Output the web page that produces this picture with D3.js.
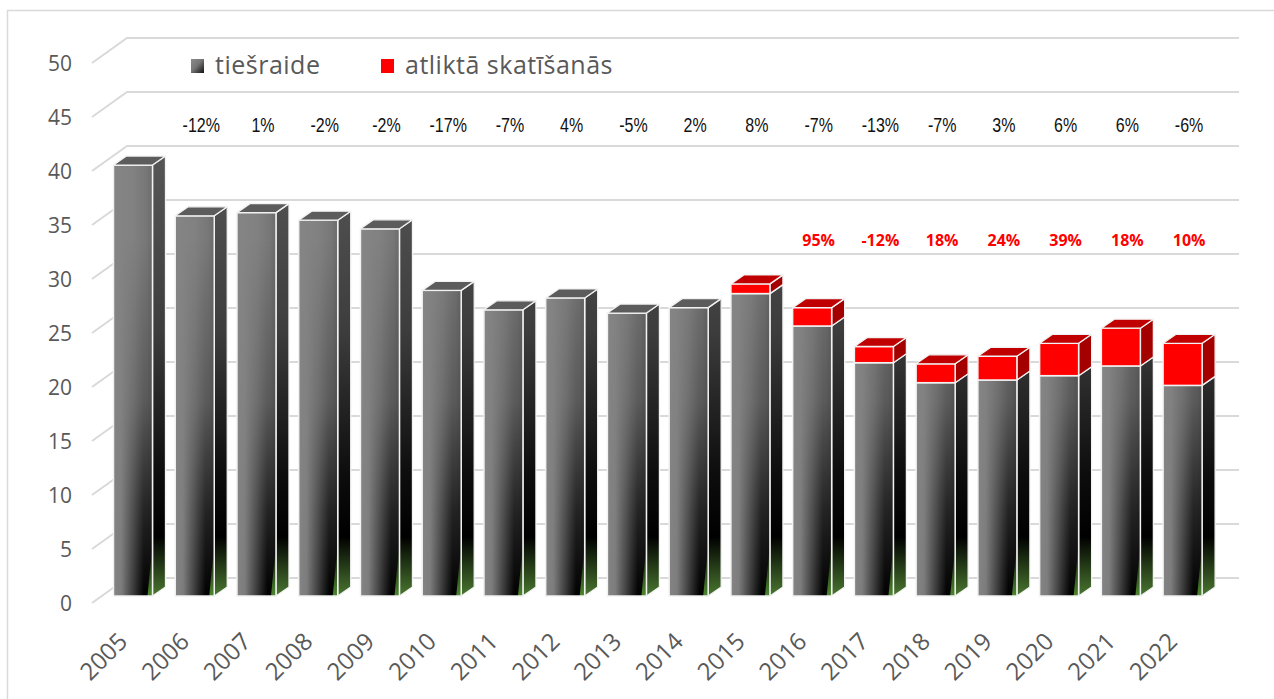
<!DOCTYPE html>
<html><head><meta charset="utf-8">
<script src="https://cdn.jsdelivr.net/npm/d3@7/dist/d3.min.js"></script>
<style>html,body{margin:0;padding:0;background:#fff;overflow:hidden}</style>
</head><body>
<svg id="c" width="1274" height="699"></svg>
<script>
// ---------- data ----------
const years = ["2005","2006","2007","2008","2009","2010","2011","2012","2013","2014","2015","2016","2017","2018","2019","2020","2021","2022"];
const liveValues = [39.9,35.2,35.5,34.8,34.0,28.3,26.5,27.6,26.2,26.7,28.0,25.0,21.6,19.75,20.0,20.4,21.3,19.5];
const delayedValues = [0,0,0,0,0,0,0,0,0,0,0.9,1.7,1.5,1.75,2.2,3.0,3.5,3.9];
const totalChangeLabels = ["","-12%","1%","-2%","-2%","-17%","-7%","4%","-5%","2%","8%","-7%","-13%","-7%","3%","6%","6%","-6%"];
const delayedChangeLabels = ["","","","","","","","","","","","95%","-12%","18%","24%","39%","18%","10%"];
const yTicks = [0,5,10,15,20,25,30,35,40,45,50];
const seriesNames = ["tiešraide","atliktā skatīšanās"];

// ---------- setup ----------
const svg = d3.select("#c");
const x = d3.scaleBand().domain(years).range([102, 1213.6]).paddingInner(0.368).paddingOuter(0.186);
const y = d3.scaleLinear().domain([0, 50]).range([596, 56]);
const DX = 13, DY = -9;           // bar depth
const FRONT_X = 92, BACK_X = 127;  // side wall
const FRONT_OFF = 7, BACK_OFF = -18;
const WALL_RIGHT = 1239;
const grid = "#d9d9d9";
const textGray = "#595959";
const edge = "#f2f2f2";

const defs = svg.append("defs");
function lin(id, attrs, stops) {
  const g = defs.append("linearGradient").attr("id", id);
  Object.entries(attrs).forEach(([k, v]) => g.attr(k, v));
  stops.forEach(s => g.append("stop").attr("offset", s[0]).attr("stop-color", s[1]).attr("stop-opacity", s[2] === undefined ? 1 : s[2]));
}
lin("frontBase", {x1:0,y1:0,x2:1,y2:0}, [[0,"#858585"],[0.5,"#818181"],[0.85,"#777"],[1,"#6a6a6a"]]);
lin("frontDark", {x1:0,y1:0,x2:1,y2:0}, [[0,"#000",0],[0.2,"#000",0.05],[0.78,"#000",1],[1,"#000",1]]);
lin("maskGrad", {gradientUnits:"userSpaceOnUse",x1:0,y1:240,x2:0,y2:600}, [[0,"#fff",0],[0.45,"#fff",0.25],[0.75,"#fff",0.7],[1,"#fff",1]]);
lin("sideGrad", {gradientUnits:"userSpaceOnUse",x1:0,y1:150,x2:0,y2:600}, [[0,"#575757"],[0.4,"#3d3d3d"],[0.72,"#0d0d0d"],[0.86,"#000"],[1,"#4f7f33"]]);
lin("greenEdge", {gradientUnits:"userSpaceOnUse",x1:0,y1:545,x2:0,y2:597}, [[0,"#4f8a2f",0],[1,"#4f8a2f",1]]);
lin("legendGray", {x1:0,y1:0,x2:1,y2:1}, [[0,"#8a8a8a"],[0.45,"#777"],[1,"#111"]]);
const mask = defs.append("mask").attr("id","fadeMask").attr("maskUnits","userSpaceOnUse")
  .attr("x",0).attr("y",0).attr("width",1274).attr("height",699);
mask.append("rect").attr("x",0).attr("y",0).attr("width",1274).attr("height",699).attr("fill","url(#maskGrad)");

// outer border
svg.append("rect").attr("x",7.5).attr("y",10.5).attr("width",1300).attr("height",800)
  .attr("fill","#fff").attr("stroke","#d9d9d9").attr("stroke-width",1.5);

// ---------- gridlines (back wall + side wall) ----------
const gl = svg.append("g").attr("stroke", grid).attr("stroke-width", 2).attr("fill","none");
yTicks.forEach(t => {
  const yb = y(t) + BACK_OFF, yf = y(t) + FRONT_OFF;
  gl.append("path").attr("d", `M${FRONT_X},${yf}L${BACK_X},${yb}L${WALL_RIGHT},${yb}`);
});

// y tick labels
svg.append("g").selectAll("text").data(yTicks).join("text")
  .attr("x", 72).attr("y", d => y(d) + FRONT_OFF).attr("dy","0.36em")
  .attr("text-anchor","end").attr("fill", textGray)
  .attr("font-family","'Open Sans', sans-serif").attr("font-size", 21)
  .text(d => d);

// ---------- bars ----------
const bars = svg.append("g");
years.forEach((yr, i) => {
  const xl = x(yr), w = x.bandwidth(), xr = xl + w;
  const y0 = y(0), y1 = y(liveValues[i]), y2 = y(liveValues[i] + delayedValues[i]);
  const g = bars.append("g");
  g.append("path").attr("d", `M${xr},${y1}L${xr+DX},${y1+DY}L${xr+DX},${y0+DY}L${xr},${y0}Z`)
    .attr("fill","url(#sideGrad)").attr("stroke",edge).attr("stroke-width",1.3).attr("stroke-linejoin","round");
  g.append("rect").attr("x",xl).attr("y",y1).attr("width",w).attr("height",y0-y1).attr("fill","url(#frontBase)");
  g.append("rect").attr("x",xl).attr("y",y1).attr("width",w).attr("height",y0-y1).attr("fill","url(#frontDark)").attr("mask","url(#fadeMask)");
  g.append("path").attr("d", `M${xr-5},${y0}L${xr},${y0}L${xr},${y0-52}Z`).attr("fill","url(#greenEdge)");
  g.append("rect").attr("x",xl).attr("y",y1).attr("width",w).attr("height",y0-y1)
    .attr("fill","none").attr("stroke",edge).attr("stroke-width",1.5);
  if (delayedValues[i] > 0) {
    g.append("path").attr("d", `M${xr},${y2}L${xr+DX},${y2+DY}L${xr+DX},${y1+DY}L${xr},${y1}Z`)
      .attr("fill","#a50000").attr("stroke",edge).attr("stroke-width",1.3).attr("stroke-linejoin","round");
    g.append("rect").attr("x",xl).attr("y",y2).attr("width",w).attr("height",y1-y2)
      .attr("fill","#ff0000").attr("stroke",edge).attr("stroke-width",1.5);
    g.append("path").attr("d", `M${xl},${y2}L${xr},${y2}L${xr+DX},${y2+DY}L${xl+DX},${y2+DY}Z`)
      .attr("fill","#c00000").attr("stroke",edge).attr("stroke-width",1.3).attr("stroke-linejoin","round");
  } else {
    g.append("path").attr("d", `M${xl},${y1}L${xr},${y1}L${xr+DX},${y1+DY}L${xl+DX},${y1+DY}Z`)
      .attr("fill","#5c5c5c").attr("stroke",edge).attr("stroke-width",1.3).attr("stroke-linejoin","round");
  }
});

// ---------- x labels ----------
svg.append("g").selectAll("text").data(years).join("text")
  .attr("transform", d => `translate(${x(d) + x.bandwidth()/2 - 4},643) rotate(-45)`)
  .attr("text-anchor","end").attr("fill", textGray)
  .attr("font-family","'Open Sans', sans-serif").attr("font-size", 24)
  .text(d => d);

// ---------- change labels ----------
const labelX = d => x(d) + x.bandwidth()/2 + DX/2;
svg.append("g").selectAll("text").data(years.map((d,i)=>({d, t: totalChangeLabels[i]})).filter(o=>o.t))
  .join("text")
  .attr("transform", o => `translate(${labelX(o.d)},132) scale(0.8,1)`)
  .attr("text-anchor","middle").attr("fill","#111")
  .attr("font-family","'Liberation Sans', Arial, sans-serif").attr("font-size", 20)
  .text(o => o.t);
svg.append("g").selectAll("text").data(years.map((d,i)=>({d, t: delayedChangeLabels[i]})).filter(o=>o.t))
  .join("text")
  .attr("x", o => labelX(o.d)).attr("y", 246)
  .attr("text-anchor","middle").attr("fill","#ff0000").attr("font-weight","bold")
  .attr("font-family","'Open Sans', sans-serif").attr("font-size", 16)
  .text(o => o.t);

// ---------- legend ----------
const lg = svg.append("g");
lg.append("rect").attr("x",191).attr("y",59).attr("width",13).attr("height",14).attr("fill","url(#legendGray)");
lg.append("text").attr("x",215).attr("y",74).attr("fill",textGray)
  .attr("font-family","'Open Sans', sans-serif").attr("font-size",25).attr("letter-spacing",0.5).text(seriesNames[0]);
lg.append("rect").attr("x",381).attr("y",59).attr("width",13).attr("height",14).attr("fill","#ff0000");
lg.append("text").attr("x",405).attr("y",74).attr("fill",textGray)
  .attr("font-family","'Open Sans', sans-serif").attr("font-size",25).attr("letter-spacing",0.5).text(seriesNames[1]);
</script>
</body></html>
